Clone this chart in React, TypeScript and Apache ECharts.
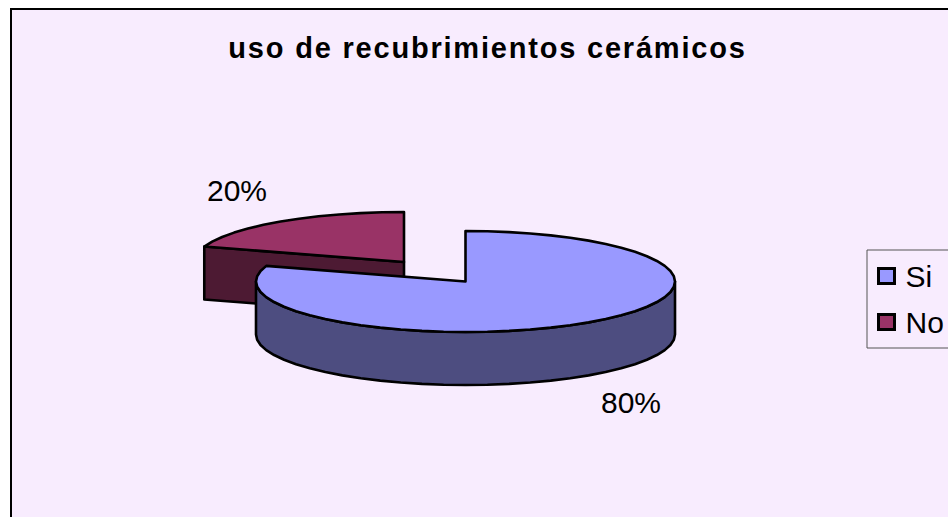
import React, { useEffect, useRef } from "react";
import * as echarts from "echarts";

const titleText = "uso de recubrimientos cerámicos";
const categories = ["Si", "No"];
const values = [80, 20];
const topColors = ["#9999FF", "#993366"];
const wallColors = ["#4D4D80", "#4D1A33"];

const FONT = "'Liberation Sans', Arial, sans-serif";
const BG = "#F8ECFE";
const DEPTH = 53;
// Exploded geometry of each slice: centre of the top ellipse, and its radii.
const geometry = [
  { cx: 465.5, cy: 281.5, rx: 209.5, ry: 50.5, labelX: 631, labelY: 402 },
  { cx: 404, cy: 262, rx: 210, ry: 50, labelX: 237, labelY: 190 },
];
// Both series start so that "No" ends at 12 o'clock and "Si" starts there.
const total = values.reduce((a, b) => a + b, 0);

function arc(g: (typeof geometry)[number], from: number, to: number, dy = 0) {
  const pts: number[][] = [];
  const steps = Math.max(1, Math.round(Math.abs(to - from) / 6));
  for (let i = 0; i <= steps; i++) {
    const t = ((from + ((to - from) * i) / steps) * Math.PI) / 180;
    pts.push([g.cx + g.rx * Math.sin(t), g.cy - g.ry * Math.cos(t) + dy]);
  }
  return pts;
}

const stroke = { stroke: "#000", lineWidth: 2.6, lineJoin: "round" };

function renderSlice(index: number) {
  return (_params: any, api: any) => {
    const g = geometry[index];
    const value = api.value(0);
    const sweep = (value / total) * 360;
    const start = index === 0 ? 0 : 360 - sweep;
    const end = start + sweep;
    const top = [[g.cx, g.cy], ...arc(g, start, end)];
    let wall: number[][];
    if (index === 0) {
      wall = [...arc(g, 90, 270), ...arc(g, 270, 90, DEPTH)];
    } else {
      const p = arc(g, start, start)[0];
      wall = [p, [g.cx, g.cy], [g.cx, g.cy + DEPTH], [p[0], p[1] + DEPTH]];
    }
    return {
      type: "group",
      children: [
        { type: "polygon", shape: { points: wall }, style: { fill: wallColors[index], ...stroke } },
        { type: "polygon", shape: { points: top }, style: { fill: topColors[index], ...stroke } },
        {
          type: "text",
          style: {
            x: g.labelX,
            y: g.labelY,
            text: `${value}%`,
            fill: "#000",
            font: `30px ${FONT}`,
            textAlign: "center",
            textVerticalAlign: "middle",
          },
        },
      ],
    };
  };
}

export default function App() {
  const ref = useRef<HTMLDivElement>(null);
  useEffect(() => {
    document.body.style.margin = "0";
    const chart = echarts.init(ref.current!, undefined, { renderer: "svg" });
    chart.setOption({
      animation: false,
      backgroundColor: "#fff",
      graphic: [
        {
          type: "rect",
          z: 0,
          shape: { x: 11, y: 9, width: 1000, height: 600 },
          style: { fill: BG, stroke: "#000", lineWidth: 2 },
        },
      ],
      title: {
        text: titleText,
        left: 482.5,
        top: 28,
        textAlign: "center",
        textStyle: { fontFamily: FONT, fontWeight: "bold", fontSize: 29, color: "#000" },
      },
      legend: {
        left: 867,
        top: 250,
        orient: "vertical",
        padding: [11, 20, 11, 10],
        itemGap: 16,
        itemWidth: 16,
        itemHeight: 15,
        borderColor: "#555",
        borderWidth: 1,
        backgroundColor: BG,
        selectedMode: false,
        textStyle: { fontFamily: FONT, fontSize: 30, color: "#000", padding: [0, 0, 0, 6] },
        data: categories.map((name, i) => ({
          name,
          icon: "rect",
          itemStyle: { color: topColors[i], borderColor: "#000", borderWidth: 3 },
        })),
      },
      series: categories.map((name, i) => ({
        type: "custom",
        name,
        coordinateSystem: "none",
        z: i === 0 ? 3 : 2,
        silent: true,
        renderItem: renderSlice(i),
        data: [[values[i]]],
      })),
    });
    return () => chart.dispose();
  }, []);
  return (
    <div>
      <style>{`text[style*="bold"]{letter-spacing:1.8px}`}</style>
      <div ref={ref} style={{ width: 948, height: 517 }} />
    </div>
  );
}
